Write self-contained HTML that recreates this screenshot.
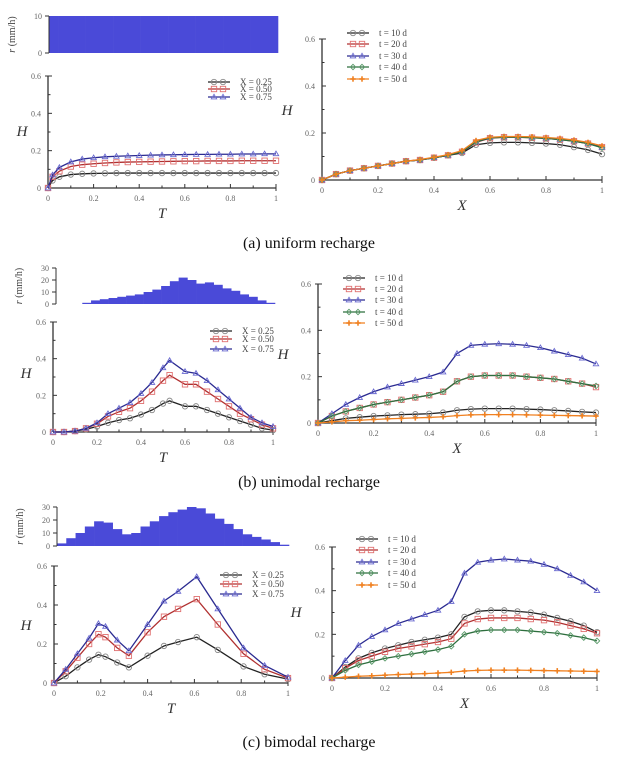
<!DOCTYPE html>
<html><head><meta charset="utf-8"><style>
body{margin:0;background:#fff;width:618px;height:761px;overflow:hidden}
svg{display:block;font-family:"Liberation Serif",serif}
.tk{font-size:8px;fill:#666}
.at{font-size:15px;font-style:italic;fill:#333}
.lg{font-size:9px;fill:#444}
.cap{font-size:16px;fill:#111}
</style></head><body>
<svg id="fig" width="618" height="761" viewBox="0 0 618 761" xmlns="http://www.w3.org/2000/svg">
<text class="cap" x="309" y="248" text-anchor="middle">(a) uniform recharge</text>
<text class="cap" x="309" y="487" text-anchor="middle">(b) unimodal recharge</text>
<text class="cap" x="309" y="747" text-anchor="middle">(c) bimodal recharge</text>
</svg>
<script>
// ---- recharge bar data (25 bars, T step 0.04) ----
const rUniform = [10,10,10,10,10,10,10,10,10,10,10,10,10,10,10,10,10,10,10,10,10,10,10,10,10];
const rUnimodal = [0,0,0,1,3,4,5,6,7,8,10,12,15,19,22,20,17,18,16,13,11,8,6,3,1];
const rBimodal = [2,6,10,15,19,18,13,9,10,15,19,23,26,28,30,29,25,21,17,13,9,7,5,3,1];
// ---- H vs T data ----
const tA = [0,0.02,0.05,0.1,0.15,0.2,0.25,0.3,0.35,0.4,0.45,0.5,0.55,0.6,0.65,0.7,0.75,0.8,0.85,0.9,0.95,1];
const a25 = [0,0.04,0.06,0.072,0.076,0.078,0.079,0.08,0.08,0.08,0.08,0.08,0.08,0.08,0.08,0.08,0.08,0.08,0.08,0.08,0.08,0.08];
const a50 = [0,0.06,0.09,0.115,0.125,0.13,0.134,0.137,0.139,0.14,0.141,0.142,0.143,0.144,0.144,0.145,0.145,0.145,0.146,0.146,0.146,0.146];
const a75 = [0,0.07,0.11,0.14,0.155,0.162,0.167,0.17,0.172,0.174,0.176,0.177,0.178,0.179,0.18,0.18,0.181,0.181,0.182,0.182,0.183,0.183];
const tB = [0,0.05,0.1,0.15,0.2,0.25,0.3,0.35,0.4,0.45,0.5,0.53,0.6,0.65,0.7,0.75,0.8,0.85,0.9,0.95,1];
const b25 = [0,0,0.005,0.015,0.03,0.05,0.065,0.075,0.095,0.12,0.155,0.17,0.14,0.14,0.12,0.1,0.08,0.06,0.04,0.02,0.01];
const b50 = [0,0,0.005,0.02,0.045,0.085,0.11,0.13,0.17,0.22,0.28,0.31,0.26,0.26,0.22,0.18,0.14,0.1,0.07,0.04,0.02];
const b75 = [0,0,0.005,0.02,0.05,0.1,0.13,0.16,0.21,0.27,0.35,0.39,0.33,0.32,0.28,0.23,0.18,0.13,0.08,0.05,0.03];
const tC = [0,0.05,0.1,0.15,0.19,0.22,0.27,0.32,0.4,0.47,0.53,0.61,0.7,0.81,0.9,1];
const c25 = [0,0.035,0.08,0.12,0.145,0.135,0.105,0.08,0.14,0.19,0.21,0.235,0.17,0.085,0.045,0.02];
const c50 = [0,0.06,0.13,0.2,0.25,0.235,0.18,0.14,0.26,0.34,0.38,0.43,0.3,0.15,0.07,0.025];
const c75 = [0,0.07,0.15,0.23,0.305,0.29,0.22,0.165,0.3,0.42,0.47,0.545,0.38,0.18,0.09,0.03];
// ---- H vs X data ----
const xs = [0,0.05,0.1,0.15,0.2,0.25,0.3,0.35,0.4,0.45,0.5,0.55,0.6,0.65,0.7,0.75,0.8,0.85,0.9,0.95,1];
const ra10 = [0,0.025,0.04,0.05,0.06,0.07,0.08,0.085,0.095,0.105,0.115,0.15,0.158,0.16,0.16,0.158,0.155,0.15,0.14,0.128,0.11];
const ra20 = [0,0.025,0.04,0.05,0.06,0.07,0.08,0.085,0.095,0.105,0.12,0.16,0.178,0.182,0.182,0.18,0.177,0.172,0.165,0.155,0.14];
const ra30 = [0,0.025,0.04,0.05,0.06,0.07,0.08,0.085,0.095,0.105,0.12,0.162,0.18,0.183,0.183,0.181,0.178,0.173,0.166,0.156,0.138];
const ra40 = [0,0.025,0.04,0.05,0.06,0.07,0.08,0.085,0.095,0.105,0.12,0.162,0.179,0.182,0.182,0.18,0.177,0.172,0.165,0.155,0.137];
const ra50 = [0,0.025,0.04,0.05,0.06,0.07,0.08,0.087,0.097,0.108,0.125,0.168,0.182,0.185,0.185,0.184,0.181,0.177,0.17,0.16,0.145];
const rb10 = [0,0.01,0.02,0.025,0.03,0.033,0.036,0.038,0.04,0.045,0.055,0.06,0.062,0.062,0.062,0.06,0.058,0.055,0.052,0.048,0.045];
const rb20 = [0,0.03,0.05,0.065,0.08,0.09,0.1,0.11,0.12,0.135,0.18,0.2,0.205,0.205,0.205,0.2,0.195,0.19,0.18,0.17,0.155];
const rb30 = [0,0.04,0.08,0.11,0.135,0.155,0.17,0.185,0.2,0.22,0.3,0.335,0.34,0.342,0.34,0.335,0.325,0.31,0.295,0.28,0.255];
const rb40 = [0,0.03,0.05,0.065,0.08,0.09,0.1,0.11,0.12,0.135,0.18,0.2,0.205,0.205,0.205,0.2,0.195,0.19,0.18,0.17,0.16];
const rb50 = [0,0.005,0.01,0.012,0.015,0.018,0.02,0.022,0.024,0.027,0.032,0.035,0.036,0.036,0.036,0.035,0.034,0.033,0.032,0.031,0.03];
const rc10 = [0,0.05,0.09,0.115,0.135,0.15,0.165,0.175,0.185,0.2,0.28,0.305,0.31,0.31,0.305,0.3,0.29,0.275,0.26,0.24,0.21];
const rc20 = [0,0.045,0.08,0.1,0.12,0.135,0.145,0.155,0.165,0.18,0.25,0.27,0.275,0.275,0.275,0.27,0.265,0.255,0.24,0.225,0.205];
const rc30 = [0,0.08,0.15,0.19,0.22,0.25,0.27,0.29,0.31,0.35,0.48,0.53,0.54,0.545,0.54,0.535,0.52,0.5,0.47,0.44,0.4];
const rc40 = [0,0.035,0.06,0.075,0.09,0.1,0.11,0.12,0.13,0.145,0.2,0.215,0.22,0.22,0.22,0.215,0.21,0.205,0.195,0.185,0.17];
const rc50 = [0,0.004,0.008,0.01,0.013,0.016,0.018,0.02,0.023,0.026,0.032,0.035,0.036,0.036,0.036,0.035,0.034,0.033,0.032,0.031,0.03];
const xTickLabels = ["0","0.2","0.4","0.6","0.8","1"];
const hTickLabels = ["0","0.2","0.4","0.6"];

const NS="http://www.w3.org/2000/svg";
const svg=document.getElementById('fig');
function mk(tag,attrs,parent){const e=document.createElementNS(NS,tag);for(const k in attrs)e.setAttribute(k,attrs[k]);(parent||svg).appendChild(e);return e;}

const styles={
 circ:{line:'#222',mk:'#888',shape:'circle'},
 sq:{line:'#b03030',mk:'#e07070',shape:'square'},
 tri:{line:'#2a2a90',mk:'#6a6ad0',shape:'tri'},
 dia:{line:'#2e6e3e',mk:'#5a9a6a',shape:'dia'},
 plus:{line:'#f08020',mk:'#f08020',shape:'plus'}
};
function marker(g,shape,x,y,c){
 const r=2.7;
 if(shape==='circle')mk('circle',{cx:x,cy:y,r:r,fill:'none',stroke:c,'stroke-width':0.9},g);
 else if(shape==='square')mk('rect',{x:x-r,y:y-r,width:2*r,height:2*r,fill:'none',stroke:c,'stroke-width':0.9},g);
 else if(shape==='tri')mk('polygon',{points:`${x},${y-r} ${x-r},${y+r*0.7} ${x+r},${y+r*0.7}`,fill:'none',stroke:c,'stroke-width':0.9},g);
 else if(shape==='dia')mk('polygon',{points:`${x},${y-r} ${x+r},${y} ${x},${y+r} ${x-r},${y}`,fill:'none',stroke:c,'stroke-width':0.9},g);
 else {mk('line',{x1:x-r,y1:y,x2:x+r,y2:y,stroke:c,'stroke-width':1.6},g);mk('line',{x1:x,y1:y-r,x2:x,y2:y+r,stroke:c,'stroke-width':1.6},g);}
}
function axes(p,name,xlabel,hpos){
 const g=mk('g',{});
 
 
 const X=v=>p.x0+(p.x1-p.x0)*v, Y=v=>p.y0-(p.y0-p.y6)*v/0.6;
 mk('line',{x1:p.x0,y1:p.y0,x2:p.x1,y2:p.y0,stroke:'#333','stroke-width':1.3},g);
 mk('line',{x1:p.x0,y1:p.y0,x2:p.x0,y2:p.y6,stroke:'#333','stroke-width':1.3},g);
 for(let i=0;i<=10;i++){const x=X(i/10);mk('line',{x1:x,y1:p.y0,x2:x,y2:p.y0-(i%2?2.5:4),stroke:'#333','stroke-width':1},g);}
 mk('line',{x1:p.x1,y1:p.y0,x2:p.x1,y2:p.y0+3,stroke:'#333','stroke-width':1},g);
 xTickLabels.forEach((t,i)=>{const e=mk('text',{class:'tk',x:X(i*0.2),y:p.y0+13,'text-anchor':'middle'},g);e.textContent=t;});
 for(let i=0;i<=6;i++){const y=Y(i*0.1);mk('line',{x1:p.x0,y1:y,x2:p.x0+(i%2?2.5:4),y2:y,stroke:'#333','stroke-width':1},g);}
 mk('line',{x1:p.x0-3,y1:p.y6,x2:p.x0,y2:p.y6,stroke:'#333','stroke-width':1},g);
 hTickLabels.forEach((t,i)=>{const e=mk('text',{class:'tk',x:p.x0-7,y:Y(i*0.2)+3,'text-anchor':'end'},g);e.textContent=t;});
 const xl=mk('text',{class:'at',x:(p.x0+p.x1)/2,y:p.y0+30,'text-anchor':'middle'},g);xl.textContent=xlabel;
 const hl=mk('text',{class:'at',x:hpos[0],y:hpos[1],'text-anchor':'middle'},g);hl.textContent='H';
 return {X,Y};
}
function series(ax,name,xsArr,ys,st){
 const g=mk('g',{});
 
 
 const pts=xsArr.map((x,i)=>ax.X(x)+','+ax.Y(ys[i])).join(' ');
 mk('polyline',{points:pts,fill:'none',stroke:st.line,'stroke-width':1.3},g);
 xsArr.forEach((x,i)=>marker(g,st.shape,ax.X(x),ax.Y(ys[i]),st.mk));
}
function legend(name,x,ys,labels,keys){
 const g=mk('g',{});
 
 
 labels.forEach((l,i)=>{const st=styles[keys[i]];const y=ys[i];
  mk('line',{x1:x,y1:y,x2:x+22,y2:y,stroke:st.line,'stroke-width':1.3},g);
  marker(g,st.shape,x+6,y,st.mk);marker(g,st.shape,x+15,y,st.mk);
  const e=mk('text',{class:'lg',x:x+32,y:y+3},g);e.textContent=l;});
}
function bars(name,p,vals,ticks,ymax){
 const g=mk('g',{});
 
 
 const w=(p.x1-p.x0)/vals.length;
 const Y=v=>p.y0-(p.y0-p.yt)*v/ymax;
 vals.forEach((v,i)=>{const b=mk('rect',{x:p.x0+i*w,y:Y(v),width:w+0.3,height:p.y0-Y(v),fill:'#4a4ad8'},g);
  
  });
 mk('line',{x1:p.x0,y1:p.y0,x2:p.x0,y2:p.yt,stroke:'#333','stroke-width':1},g);
 ticks.forEach(t=>{const y=Y(t);mk('line',{x1:p.x0-4,y1:y,x2:p.x0,y2:y,stroke:'#333','stroke-width':1},g);
  const e=mk('text',{class:'tk',x:p.x0-7,y:y+3,'text-anchor':'end'},g);e.textContent=t;});
 const yl=mk('text',{x:p.x0-34,y:(p.y0+p.yt)/2,'font-size':'10','fill':'#444','text-anchor':'middle',transform:`rotate(-90 ${p.x0-34} ${(p.y0+p.yt)/2})`},g);
 yl.innerHTML='<tspan font-style="italic">r</tspan> (mm/h)';
}
const tl=["X = 0.25","X = 0.50","X = 0.75"], tk3=['circ','sq','tri'];
const dl=["t = 10 d","t = 20 d","t = 30 d","t = 40 d","t = 50 d"], tk5=['circ','sq','tri','dia','plus'];

// (a)
bars('recharge-bars-a',{x0:49,x1:278,y0:53,yt:16},rUniform,[0,10],10);
let ax=axes({x0:48,x1:276,y0:188,y6:76},'h-t-a','T',[22,136]);
series(ax,'a-x025',tA,a25,styles.circ);series(ax,'a-x050',tA,a50,styles.sq);series(ax,'a-x075',tA,a75,styles.tri);
legend('legend-a-left',208,[82,89,97],tl,tk3);
ax=axes({x0:322,x1:602,y0:180,y6:39},'h-x-a','X',[287,115]);
[ra10,ra20,ra30,ra40,ra50].forEach((d,i)=>series(ax,'a-t'+(i+1)+'0',xs,d,styles[tk5[i]]));
legend('legend-a-right',347,[33,44,56,67,79],dl,tk5);
// (b)
bars('recharge-bars-b',{x0:56,x1:275,y0:304,yt:268},rUnimodal,[0,10,20,30],30);
ax=axes({x0:53,x1:273,y0:432,y6:322},'h-t-b','T',[26,378]);
series(ax,'b-x025',tB,b25,styles.circ);series(ax,'b-x050',tB,b50,styles.sq);series(ax,'b-x075',tB,b75,styles.tri);
legend('legend-b-left',210,[331,339,349],tl,tk3);
ax=axes({x0:318,x1:596,y0:423,y6:284},'h-x-b','X',[283,359]);
[rb10,rb20,rb30,rb40,rb50].forEach((d,i)=>series(ax,'b-t'+(i+1)+'0',xs,d,styles[tk5[i]]));
legend('legend-b-right',343,[278,289,300,312,323],dl,tk5);
// (c)
bars('recharge-bars-c',{x0:57,x1:289,y0:546,yt:507},rBimodal,[0,10,20,30],30);
ax=axes({x0:54,x1:288,y0:683,y6:566},'h-t-c','T',[26,630]);
series(ax,'c-x025',tC,c25,styles.circ);series(ax,'c-x050',tC,c50,styles.sq);series(ax,'c-x075',tC,c75,styles.tri);
legend('legend-c-left',220,[575,584,594],tl,tk3);
ax=axes({x0:332,x1:597,y0:678,y6:547},'h-x-c','X',[296,617]);
[rc10,rc20,rc30,rc40,rc50].forEach((d,i)=>series(ax,'c-t'+(i+1)+'0',xs,d,styles[tk5[i]]));
legend('legend-c-right',356,[539,550,562,573,585],dl,tk5);
</script>
</body></html>
